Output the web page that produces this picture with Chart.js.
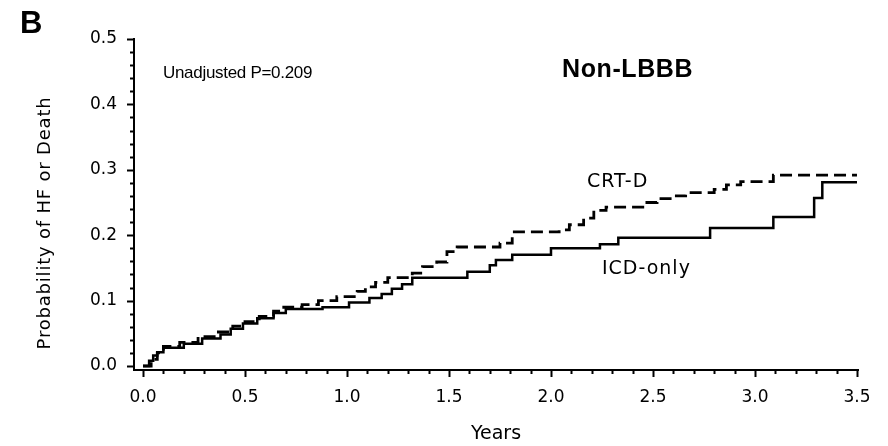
<!DOCTYPE html>
<html><head><meta charset="utf-8">
<script src="https://cdn.jsdelivr.net/npm/chart.js@4/dist/chart.umd.min.js"></script>
<style>html,body{margin:0;padding:0;background:#fff;}#wrap{width:888px;height:446px;}</style>
</head><body><div id="wrap"><canvas id="c" width="888" height="446"></canvas></div>
<script>
// ---- data ----
const icdTimes = [0,0.03,0.05,0.07,0.10,0.20,0.29,0.38,0.43,0.49,0.56,0.64,0.70,0.88,1.01,1.11,1.17,1.22,1.27,1.32,1.59,1.70,1.73,1.81,2.00,2.24,2.33,2.78,3.09,3.29,3.33,3.50];
const icdProb  = [0,0.008,0.016,0.021,0.028,0.034,0.042,0.048,0.057,0.065,0.073,0.081,0.087,0.090,0.097,0.104,0.110,0.118,0.125,0.135,0.144,0.154,0.162,0.170,0.180,0.186,0.196,0.211,0.228,0.257,0.281,0.281];
const crtTimes = [0,0.04,0.07,0.10,0.18,0.27,0.36,0.44,0.50,0.57,0.64,0.69,0.78,0.86,0.95,1.05,1.09,1.14,1.20,1.32,1.37,1.44,1.49,1.54,1.75,1.81,2.04,2.09,2.16,2.21,2.27,2.45,2.52,2.60,2.66,2.80,2.86,2.93,3.09,3.50];
const crtProb  = [0,0.010,0.020,0.030,0.036,0.045,0.052,0.061,0.068,0.076,0.084,0.090,0.094,0.100,0.106,0.114,0.121,0.128,0.135,0.142,0.152,0.159,0.175,0.182,0.188,0.205,0.208,0.216,0.226,0.238,0.243,0.250,0.256,0.260,0.265,0.270,0.277,0.282,0.292,0.292];
const seriesNames = ['CRT-D','ICD-only'];
const xTickValues = [0,0.5,1.0,1.5,2.0,2.5,3.0,3.5];
const yTickValues = [0,0.1,0.2,0.3,0.4,0.5];
const panelLetter = 'B';
const pValueText = 'Unadjusted P=0.209';
const subgroupText = 'Non-LBBB';
const xTitle = 'Years';
const yTitle = 'Probability of HF or Death';

const toPoints = (ts, ps) => ts.map((t, i) => ({x: t, y: ps[i]}));
const INK = '#000';

const decor = {
  id: 'decor',
  afterDatasetsDraw(chart) {
    const ctx = chart.ctx, xs = chart.scales.x, ys = chart.scales.y, ca = chart.chartArea;
    ctx.save();
    ctx.strokeStyle = '#000';
    ctx.lineWidth = 2;
    // x ticks (major every 0.5, minor every 0.1)
    for (let k = 0; k <= 35; k++) {
      const v = k / 10, px = Math.round(xs.getPixelForValue(v)) + 0.5;
      const len = (k % 5 === 0) ? 7 : 4;
      ctx.beginPath(); ctx.moveTo(px, ca.bottom); ctx.lineTo(px, ca.bottom + len); ctx.stroke();
    }
    // y ticks (major every 0.1, minor every 0.02)
    for (let k = 0; k <= 25; k++) {
      const v = k / 50, py = Math.round(ys.getPixelForValue(v)) + 0.5;
      const len = (k % 5 === 0) ? 7 : 4;
      ctx.beginPath(); ctx.moveTo(ca.left, py); ctx.lineTo(ca.left - len, py); ctx.stroke();
    }
    ctx.fillStyle = INK;
    ctx.textBaseline = 'alphabetic';
    ctx.textAlign = 'left';
    // panel letter
    ctx.font = 'bold 31px "Liberation Sans", Arial, sans-serif';
    ctx.fillText(panelLetter, 20, 33);
    // p value
    ctx.font = '17px "Liberation Sans", Arial, sans-serif';
    try { ctx.letterSpacing = '-0.3px'; } catch (e) {}
    ctx.fillText(pValueText, xs.getPixelForValue(0.098), ys.getPixelForValue(0.44));
    // subgroup
    ctx.font = 'bold 25px "Liberation Sans", Arial, sans-serif';
    try { ctx.letterSpacing = '0.6px'; } catch (e) {}
    ctx.fillText(subgroupText, xs.getPixelForValue(2.054), ys.getPixelForValue(0.442));
    // series labels
    ctx.font = '19px "DejaVu Sans", sans-serif';
    try { ctx.letterSpacing = '1px'; } catch (e) {}
    ctx.fillText(seriesNames[0], xs.getPixelForValue(2.176), ys.getPixelForValue(0.274));
    ctx.fillText(seriesNames[1], xs.getPixelForValue(2.25), ys.getPixelForValue(0.141));
    // y title
    ctx.font = '18px "DejaVu Sans", sans-serif';
    try { ctx.letterSpacing = '0.8px'; } catch (e) {}
    ctx.translate(50, 223);
    ctx.rotate(-Math.PI / 2);
    ctx.textAlign = 'center';
    ctx.fillText(yTitle, 0, 0);
    ctx.restore();
  }
};

new Chart(document.getElementById('c'), {
  type: 'line',
  data: {
    datasets: [
      {label: seriesNames[1], data: toPoints(icdTimes, icdProb), borderColor: '#000', borderWidth: 2.5,
       pointRadius: 0, stepped: true, fill: false},
      {label: seriesNames[0], data: toPoints(crtTimes, crtProb), borderColor: '#000', borderWidth: 2.8,
       borderDash: [12, 6], pointRadius: 0, stepped: true, fill: false}
    ]
  },
  options: {
    responsive: false, animation: false, devicePixelRatio: 1,
    layout: {padding: {left: 0, top: 39, right: 30, bottom: 0}},
    plugins: {legend: {display: false}, tooltip: {enabled: false}},
    scales: {
      x: {
        type: 'linear', min: -0.0441, max: 3.505,
        afterBuildTicks: s => { s.ticks = xTickValues.map(v => ({value: v})); },
        afterFit: s => { s.height = 76; },
        ticks: {callback: v => Number(v).toFixed(1), font: {family: 'DejaVu Sans', size: 17}, color: INK, padding: 11, maxRotation: 0, autoSkip: false},
        grid: {display: true, drawOnChartArea: false, color: 'rgba(0,0,0,0)', tickLength: 6},
        border: {display: true, color: '#000', width: 2},
        title: {display: true, text: xTitle, font: {family: 'DejaVu Sans', size: 19}, color: INK, padding: {top: 0, bottom: 1}}
      },
      y: {
        type: 'linear', min: -0.0061, max: 0.5,
        afterBuildTicks: s => { s.ticks = yTickValues.map(v => ({value: v})); },
        afterFit: s => { s.width = 134; },
        ticks: {callback: v => Number(v).toFixed(1), font: {family: 'DejaVu Sans', size: 17}, color: INK, padding: 11},
        grid: {display: true, drawOnChartArea: false, color: 'rgba(0,0,0,0)', tickLength: 6},
        border: {display: true, color: '#000', width: 2}
      }
    }
  },
  plugins: [decor]
});
</script></body></html>
